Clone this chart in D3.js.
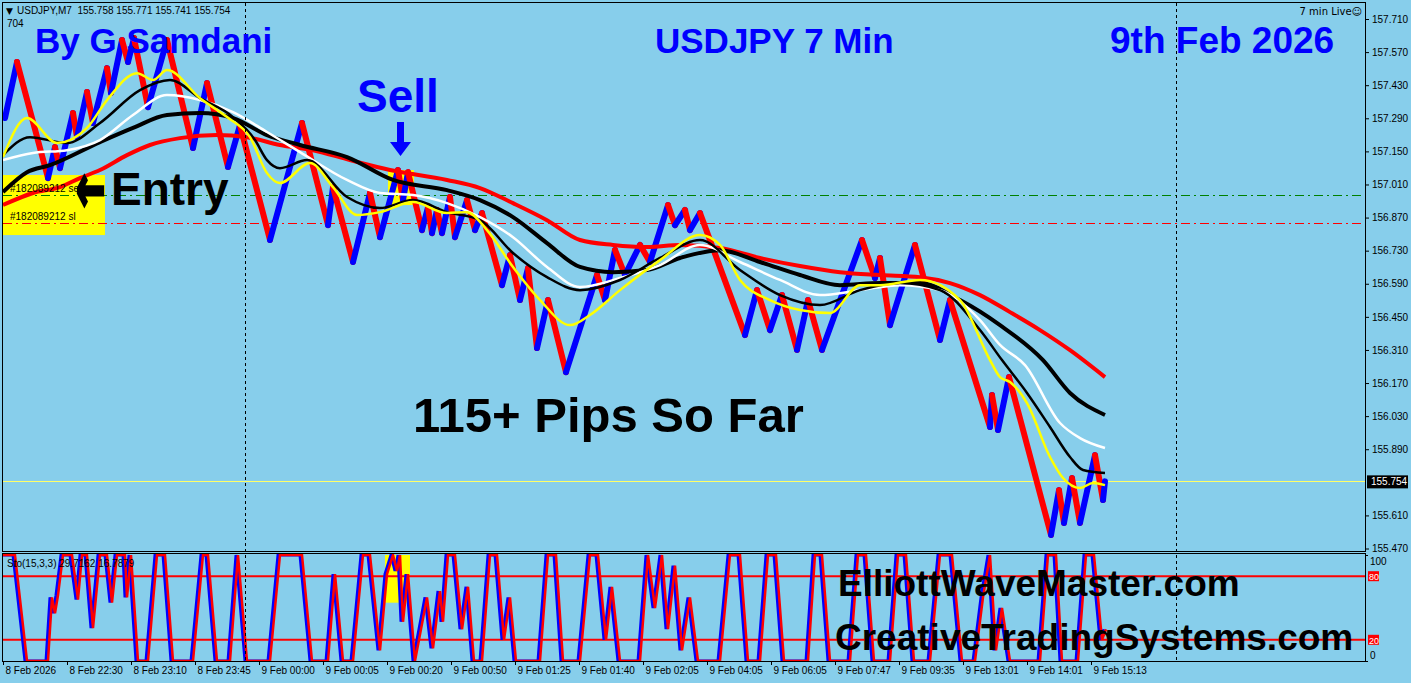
<!DOCTYPE html>
<html><head><meta charset="utf-8">
<script src="https://cdn.jsdelivr.net/npm/d3@7"></script>
<style>
body{margin:0;background:#87CEEB;overflow:hidden}
</style></head>
<body><svg id="c" width="1411" height="683" font-family="Liberation Sans, Arial, sans-serif"></svg>
<script>
// ---------- data ----------
const priceTicks = [157.710,157.570,157.430,157.290,157.150,157.010,156.870,156.730,156.590,156.450,156.310,156.170,156.030,155.890,155.610,155.470];
const timeIdx = [0,64,128,192,256,320,384,448,512,576,640,704,768,832,896,960,1024,1088];
const timeLabels = ["8 Feb 2026","8 Feb 22:30","8 Feb 23:10","8 Feb 23:45","9 Feb 00:00","9 Feb 00:05","9 Feb 00:20","9 Feb 00:50","9 Feb 01:25","9 Feb 01:40","9 Feb 02:05","9 Feb 04:05","9 Feb 06:05","9 Feb 07:47","9 Feb 09:35","9 Feb 13:01","9 Feb 14:01","9 Feb 15:13"];
const separatorIdx = [242,1173];
const lastPrice = 155.754;
const entryPrice = 156.965;
const slPrice = 156.847;
const stochLevels = [80,20];

// price zigzag pivots [bar, price]
const pricePivots = [[2,157.291],[14,157.528],[45,157.037],[52,157.168],[57,157.079],[70,157.312],[74,157.210],[84,157.401],[90,157.270],[104,157.502],[108,157.397],[119,157.621],[125,157.528],[131,157.629],[145,157.337],[164,157.621],[190,157.164],[204,157.439],[225,157.084],[237,157.261],[267,156.775],[299,157.270],[325,156.838],[330,156.999],[350,156.682],[367,156.974],[377,156.787],[395,157.071],[400,156.944],[405,157.062],[419,156.817],[425,156.914],[429,156.804],[434,156.902],[439,156.804],[447,156.957],[452,156.787],[464,156.944],[472,156.817],[479,156.889],[499,156.584],[507,156.711],[517,156.521],[525,156.656],[534,156.318],[545,156.521],[563,156.216],[594,156.627],[602,156.521],[612,156.733],[622,156.627],[637,156.754],[647,156.682],[665,156.923],[672,156.838],[682,156.902],[687,156.817],[697,156.889],[742,156.373],[754,156.563],[767,156.394],[779,156.542],[794,156.310],[805,156.521],[819,156.310],[859,156.775],[872,156.614],[877,156.699],[887,156.415],[912,156.754],[937,156.352],[947,156.521],[987,155.984],[989,156.119],[995,155.971],[1006,156.195],[1048,155.527],[1056,155.717],[1061,155.578],[1069,155.768],[1077,155.578],[1092,155.865],[1100,155.675],[1102,155.754]];

// moving averages [bar, price]
const maRed = [[0,156.923],[30,156.974],[57,156.999],[77,157.037],[97,157.071],[124,157.134],[147,157.177],[177,157.206],[214,157.219],[244,157.210],[277,157.177],[310,157.155],[347,157.113],[387,157.071],[444,157.029],[477,156.995],[510,156.931],[544,156.859],[577,156.775],[610,156.754],[644,156.745],[677,156.754],[717,156.741],[757,156.699],[797,156.665],[837,156.639],[877,156.627],[917,156.618],[947,156.593],[977,156.542],[1007,156.470],[1037,156.394],[1067,156.309],[1102,156.195]];
const maBlackThick = [[0,156.978],[24,157.062],[47,157.092],[97,157.189],[130,157.249],[164,157.304],[197,157.312],[230,157.291],[264,157.219],[297,157.177],[344,157.126],[390,157.029],[444,156.986],[477,156.944],[510,156.872],[544,156.762],[577,156.661],[610,156.639],[644,156.648],[677,156.699],[717,156.732],[757,156.682],[797,156.627],[837,156.584],[877,156.593],[917,156.593],[957,156.521],[997,156.415],[1040,156.267],[1067,156.128],[1102,156.035]];
const maWhite = [[0,157.113],[30,157.143],[64,157.155],[97,157.198],[130,157.304],[164,157.388],[197,157.367],[230,157.316],[264,157.232],[297,157.147],[344,157.029],[377,156.974],[410,156.965],[444,156.931],[477,156.872],[510,156.787],[544,156.661],[577,156.576],[617,156.614],[657,156.669],[697,156.754],[737,156.682],[777,156.606],[817,156.542],[857,156.563],[897,156.584],[937,156.563],[977,156.436],[997,156.331],[1022,156.246],[1057,156.001],[1077,155.937],[1102,155.895]];
const maBlackThin = [[0,157.134],[27,157.210],[64,157.185],[97,157.270],[137,157.409],[167,157.452],[197,157.375],[230,157.295],[252,157.198],[264,157.113],[277,157.079],[304,157.113],[344,156.957],[377,156.910],[410,156.944],[444,156.893],[477,156.859],[510,156.720],[544,156.618],[577,156.563],[617,156.606],[657,156.699],[697,156.775],[737,156.648],[777,156.542],[817,156.500],[857,156.563],[897,156.593],[937,156.563],[977,156.394],[999,156.267],[1024,156.128],[1047,155.984],[1067,155.857],[1080,155.802],[1102,155.789]];
const maYellow = [[0,157.126],[24,157.291],[54,157.185],[84,157.249],[104,157.367],[134,157.481],[150,157.452],[164,157.494],[197,157.375],[224,157.295],[247,157.210],[264,157.058],[277,157.016],[307,157.101],[330,156.999],[354,156.881],[377,156.893],[410,156.936],[444,156.889],[464,156.893],[484,156.817],[510,156.661],[537,156.521],[567,156.415],[587,156.458],[617,156.563],[657,156.690],[697,156.796],[717,156.754],[737,156.606],[767,156.521],[797,156.479],[827,156.466],[857,156.584],[877,156.584],[917,156.606],[957,156.521],[987,156.267],[997,156.195],[1007,156.174],[1024,156.085],[1047,155.857],[1060,155.768],[1077,155.726],[1090,155.747],[1102,155.738]];

// stochastic [bar, value]
const stochRed = [[0,100],[12,100],[24,0],[45,0],[49,60],[52,45],[55,62],[60,100],[69,100],[75,58],[79,100],[84,100],[90,31],[97,100],[104,100],[109,55],[114,100],[122,100],[124,60],[128,100],[135,0],[145,0],[154,100],[162,100],[170,0],[190,0],[200,100],[205,100],[214,0],[227,0],[235,100],[244,0],[267,0],[277,100],[299,100],[309,0],[325,0],[332,82],[340,0],[350,0],[360,100],[367,100],[377,10],[384,82],[390,100],[394,85],[397,100],[400,37],[405,82],[412,0],[424,60],[430,12],[437,66],[440,37],[445,100],[452,100],[459,30],[465,70],[471,0],[479,0],[487,100],[494,100],[501,20],[507,60],[513,0],[537,0],[545,100],[553,100],[560,0],[577,0],[587,100],[595,100],[603,20],[609,70],[617,0],[637,0],[645,100],[652,50],[659,100],[665,30],[672,90],[679,10],[687,60],[695,0],[717,0],[727,100],[737,100],[745,0],[757,0],[765,100],[773,100],[781,0],[805,0],[812,100],[819,100],[827,0],[847,0],[855,100],[863,100],[871,0],[887,0],[895,100],[903,100],[911,0],[927,0],[937,100],[949,100],[959,0],[972,0],[980,60],[987,100],[993,10],[999,50],[1007,0],[1037,0],[1045,100],[1053,100],[1059,0],[1075,0],[1083,100],[1091,100],[1099,20],[1103,30]];

// highlight boxes [bar0, bar1, v0, v1]
const entryBox = [0,102,156.796,157.050];
const sellBox = [385,411,156.923,157.071];
const stochBox = [382,407,55,100];

// ---------- drawing ----------
const svg = d3.select("#c");
const L=3, R=1365, T=3, B=551, ST=554, SB=661;
const x = d3.scaleLinear().domain([0,1362]).range([L,R]);
const y = d3.scaleLinear().domain([155.470,157.710]).range([548.5,19]);
const ys = d3.scaleLinear().domain([0,100]).range([SB,ST+1]);

const defs = svg.append("defs");
defs.append("clipPath").attr("id","mainClip").append("rect").attr("x",L).attr("y",T).attr("width",R-L).attr("height",B-T);
defs.append("clipPath").attr("id","stClip").append("rect").attr("x",L).attr("y",ST).attr("width",R-L).attr("height",SB-ST);

const main = svg.append("g").attr("clip-path","url(#mainClip)");
const st = svg.append("g").attr("clip-path","url(#stClip)");

// highlight boxes
main.append("rect").attr("x",x(entryBox[0])).attr("width",x(entryBox[1])-x(entryBox[0]))
  .attr("y",y(entryBox[3])).attr("height",y(entryBox[2])-y(entryBox[3])).attr("fill","#ffff00");
main.append("rect").attr("x",x(sellBox[0])).attr("width",x(sellBox[1])-x(sellBox[0]))
  .attr("y",y(sellBox[3])).attr("height",y(sellBox[2])-y(sellBox[3])).attr("fill","#ffff00");
st.append("rect").attr("x",x(stochBox[0])).attr("width",x(stochBox[1])-x(stochBox[0]))
  .attr("y",ys(stochBox[3])).attr("height",ys(stochBox[2])-ys(stochBox[3])).attr("fill","#ffff00");

// separators
separatorIdx.forEach(s=>{
  svg.append("line").attr("x1",x(s)+0.5).attr("x2",x(s)+0.5).attr("y1",T).attr("y2",SB)
    .attr("stroke","#000").attr("stroke-dasharray","3,3").attr("stroke-width",1);
});

// order lines
main.append("line").attr("x1",L).attr("x2",R).attr("y1",Math.round(y(entryPrice))+0.5).attr("y2",Math.round(y(entryPrice))+0.5)
  .attr("stroke","#008000").attr("stroke-dasharray","9,4,2,4");
main.append("line").attr("x1",L).attr("x2",R).attr("y1",Math.round(y(slPrice))+0.5).attr("y2",Math.round(y(slPrice))+0.5)
  .attr("stroke","#ff0000").attr("stroke-dasharray","9,4,2,4");

// current price line
main.append("line").attr("x1",L).attr("x2",R).attr("y1",Math.round(y(lastPrice))+0.5).attr("y2",Math.round(y(lastPrice))+0.5)
  .attr("stroke","#ffff66").attr("stroke-width",1);

// price zigzag
for(let i=1;i<pricePivots.length;i++){
  const a=pricePivots[i-1], b=pricePivots[i];
  main.append("line").attr("x1",x(a[0])).attr("y1",y(a[1])).attr("x2",x(b[0])).attr("y2",y(b[1]))
    .attr("stroke", b[1]>a[1] ? "#0000ff" : "#ff0000").attr("stroke-width",6).attr("stroke-linecap","round");
}

// moving averages
const lineP = d3.line().x(d=>x(d[0])).y(d=>y(d[1])).curve(d3.curveMonotoneX);
[[maRed,"#ff0000",4],[maBlackThick,"#000000",4],[maWhite,"#ffffff",2.5],[maBlackThin,"#000000",2.5],[maYellow,"#ffff00",2.5]]
 .forEach(([d,c,w])=>{
  main.append("path").datum(d).attr("d",lineP).attr("fill","none").attr("stroke",c).attr("stroke-width",w);
 });

main.append("text").attr("x",10).attr("y",y(entryPrice)-3).attr("font-size",10).text("#182089212 sell");
main.append("text").attr("x",10).attr("y",y(slPrice)-3).attr("font-size",10).text("#182089212 sl");

// stochastic
stochLevels.forEach(v=>{
  st.append("line").attr("x1",L).attr("x2",R).attr("y1",ys(v)).attr("y2",ys(v)).attr("stroke","#ff0000").attr("stroke-width",2);
});
const lineS = d3.line().x(d=>x(d[0])).y(d=>ys(d[1]));
st.append("path").datum(stochRed).attr("d",lineS).attr("fill","none").attr("stroke","#0000ff").attr("stroke-width",3).attr("transform","translate(-2,0)");
st.append("path").datum(stochRed).attr("d",lineS).attr("fill","none").attr("stroke","#ff0000").attr("stroke-width",2.5);

// frames
svg.append("rect").attr("x",L-0.5).attr("y",T-0.5).attr("width",R-L+1).attr("height",B-T+1).attr("fill","none").attr("stroke","#000");
svg.append("rect").attr("x",L-0.5).attr("y",ST-0.5).attr("width",R-L+1).attr("height",SB-ST+1).attr("fill","none").attr("stroke","#000");

// price axis
const ay = svg.append("g").attr("transform",`translate(${R},0)`)
  .call(d3.axisRight(y).tickValues(priceTicks).tickFormat(d3.format(".3f")).tickSize(4).tickSizeOuter(0));
ay.select(".domain").remove();
ay.selectAll("text").style("font-size","10px").style("font-family","Liberation Sans").attr("x",7).attr("fill","#000");
ay.selectAll("line").attr("stroke","#000");

// current price tag
svg.append("rect").attr("x",R+2).attr("y",y(lastPrice)-6).attr("width",41).attr("height",13).attr("fill","#000");
svg.append("text").attr("x",R+6).attr("y",y(lastPrice)+4).attr("font-size",10).attr("fill","#fff").text(lastPrice.toFixed(3));

// stoch axis
const as = svg.append("g").attr("transform",`translate(${R},0)`)
  .call(d3.axisRight(ys).tickValues([100,0]).tickSize(3).tickSizeOuter(0));
as.select(".domain").remove();
as.selectAll("text").style("font-size","10px").style("font-family","Liberation Sans").attr("x",5).attr("fill","#000")
  .attr("dy",d=>d===100?"0.9em":"-0.3em");
stochLevels.forEach(v=>{
  svg.append("rect").attr("x",R+3).attr("y",ys(v)-5).attr("width",11).attr("height",10).attr("fill","#ff0000");
  svg.append("text").attr("x",R+4).attr("y",ys(v)+4).attr("font-size",9).attr("fill","#fff").text(v);
});

// time axis
const ax = svg.append("g").attr("transform",`translate(0,${SB})`)
  .call(d3.axisBottom(x).tickValues(timeIdx).tickFormat((d,i)=>timeLabels[i]).tickSize(4).tickSizeOuter(0));
ax.select(".domain").remove();
ax.selectAll("line").attr("stroke","#000");
ax.selectAll("text").style("font-size","10px").style("font-family","Liberation Sans").attr("text-anchor","start")
  .attr("x",2).attr("y",6).attr("dy","0.71em").attr("fill","#000");

// header texts
svg.append("text").attr("x",6).attr("y",14).style("font-family","DejaVu Sans").style("font-size","9px").text("▼");
svg.append("text").attr("x",17).attr("y",14).attr("font-size",10).attr("xml:space","preserve").text("USDJPY,M7  155.758 155.771 155.741 155.754");
svg.append("text").attr("x",7).attr("y",27).attr("font-size",10).text("704");
svg.append("text").attr("x",1362).attr("y",15).attr("text-anchor","end").style("font-size","10px").style("font-family","DejaVu Sans").text("7 min Live☺");
svg.append("text").attr("x",7).attr("y",567).attr("font-size",10).text("Sto(15,3,3) 29.7162 16.7879");

// annotations
const big = (t,xx,yy,fs,col)=>svg.append("text").attr("x",xx).attr("y",yy).attr("font-size",fs).attr("font-weight","bold").attr("fill",col).text(t);
big("By G Samdani",35,53,35,"#0000ff");
big("USDJPY 7 Min",655,53,35,"#0000ff");
big("9th Feb 2026",1110,53,37,"#0000ff");
big("Sell",357,112,46,"#0000ff");
big("Entry",111,205,46,"#000");
svg.append("text").attr("transform","translate(76,212) scale(0.8,1.55)")
  .style("font-family","DejaVu Sans").style("font-weight","bold").style("font-size","44px")
  .attr("fill","#000").attr("stroke","#000").attr("stroke-width",2).text("←");
big("115+ Pips So Far",413,432,49,"#000");
big("ElliottWaveMaster.com",838,596,37,"#000");
big("CreativeTradingSystems.com",835,650,37,"#000");
// sell arrow
svg.append("path").attr("d","M397,122 h7 v20 h7 l-10.5,14 l-10.5,-14 h7 z").attr("fill","#0000ff");
</script></body></html>
